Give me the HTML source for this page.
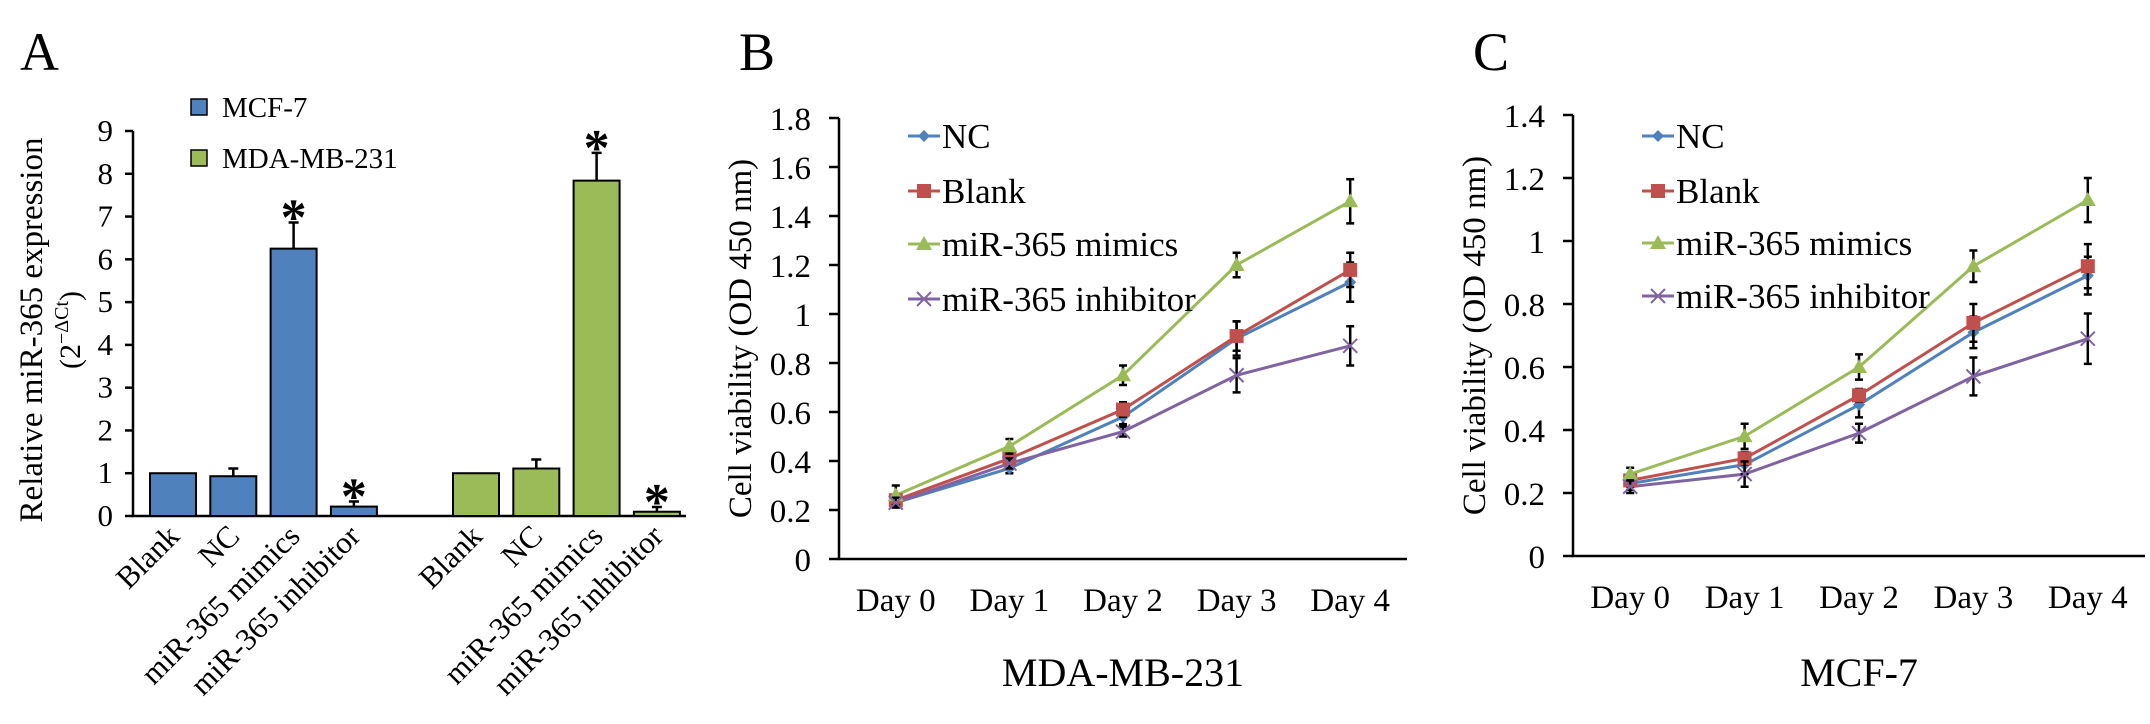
<!DOCTYPE html>
<html><head><meta charset="utf-8"><style>
html,body{margin:0;padding:0;background:#fff;}
svg, svg text, svg tspan{font-family:"Liberation Serif","Times New Roman","Nimbus Roman","Tinos","DejaVu Serif",serif;}
svg{display:block;}
</style></head><body>
<svg id="fig" width="2150" height="724" viewBox="0 0 2150 724" font-family="Liberation Serif, Times New Roman, DejaVu Serif, serif" xmlns="http://www.w3.org/2000/svg"></svg>
<script>
// ---- Panel A data ----
const aCategories = ["Blank","NC","miR-365 mimics","miR-365 inhibitor"];
const aSeriesNames = ["MCF-7","MDA-MB-231"];
const aMcf7 = [1, 0.93, 6.25, 0.22];
const aMcf7Err = [0, 0.18, 0.61, 0.12];
const aMda = [1, 1.11, 7.84, 0.10];
const aMdaErr = [0, 0.21, 0.65, 0.11];
const aSig = [false, false, true, true];
const aTicks = [0,1,2,3,4,5,6,7,8,9];
// ---- Panel B data (MDA-MB-231) ----
const days = ["Day 0","Day 1","Day 2","Day 3","Day 4"];
const lineNames = ["NC","Blank","miR-365 mimics","miR-365 inhibitor"];
const bNC = [0.23,0.37,0.58,0.90,1.13];
const bBlank = [0.24,0.41,0.61,0.91,1.18];
const bMimics = [0.26,0.46,0.75,1.20,1.46];
const bInhib = [0.23,0.39,0.52,0.75,0.87];
const bNCErr = [0.02,0.02,0.03,0.07,0.08];
const bBlankErr = [0.02,0.02,0.03,0.06,0.07];
const bMimicsErr = [0.04,0.03,0.04,0.05,0.09];
const bInhibErr = [0.02,0.02,0.02,0.07,0.08];
const bTicks = ["0","0.2","0.4","0.6","0.8","1","1.2","1.4","1.6","1.8"];
// ---- Panel C data (MCF-7) ----
const cNC = [0.23,0.29,0.48,0.71,0.89];
const cBlank = [0.24,0.31,0.51,0.74,0.92];
const cMimics = [0.26,0.38,0.60,0.92,1.13];
const cInhib = [0.22,0.26,0.39,0.57,0.69];
const cNCErr = [0.02,0.03,0.04,0.05,0.06];
const cBlankErr = [0.02,0.02,0.02,0.06,0.07];
const cMimicsErr = [0.02,0.04,0.04,0.05,0.07];
const cInhibErr = [0.02,0.04,0.03,0.06,0.08];
const cTicks = ["0","0.2","0.4","0.6","0.8","1","1.2","1.4"];

const NS="http://www.w3.org/2000/svg";
const FONT='Liberation Serif, Times New Roman, DejaVu Serif, serif';
const svg=document.getElementById('fig');
function mk(tag,attrs,parent,txt){const e=document.createElementNS(NS,tag);for(const k in attrs)e.setAttribute(k,attrs[k]);if(tag==='text')e.setAttribute('font-family',FONT);if(txt!==undefined)e.textContent=txt;(parent||svg).appendChild(e);return e;}

// ================= Panel A =================
{
const g=mk('g',{});


const lab=mk('text',{x:20,y:70,'font-size':54},g,'A');


const X0=133,X1=686,Y0=516,Ymax=9,Ytop=131;
const y=v=>Y0-(v/Ymax)*(Y0-Ytop);
const ax=mk('path',{d:`M${X0} ${Ytop}V${Y0}H${X1}`,stroke:'#000','stroke-width':2.5,fill:'none'},g);


aTicks.forEach(t=>{
  mk('line',{x1:X0-8,x2:X0,y1:y(t),y2:y(t),stroke:'#000','stroke-width':2.5},g);
  const tl=mk('text',{x:X0-20,y:y(t)+10,'font-size':31,'text-anchor':'end'},g,String(t));
  
  
});
const yt=mk('text',{'font-size':33,'text-anchor':'middle',transform:'translate(42,330) rotate(-90)'},g,'Relative miR-365 expression');


const yt2=mk('text',{'font-size':30,'text-anchor':'middle',transform:'translate(80,330) rotate(-90)'},g);


mk('tspan',{},yt2,'(2');
mk('tspan',{'font-size':20,dy:-12},yt2,'−ΔCt');
mk('tspan',{dy:12},yt2,')');
const groups=[{vals:aMcf7,err:aMcf7Err,color:'#4f81bd',start:150},{vals:aMda,err:aMdaErr,color:'#9bbb59',start:453}];
const BW=46,STEP=60.3;
groups.forEach((gr,gi)=>{
  gr.vals.forEach((v,i)=>{
    const bx=gr.start+i*STEP;
    const r=mk('rect',{x:bx,y:y(v),width:BW,height:Y0-y(v),fill:gr.color,stroke:'#000','stroke-width':2},g);
    
    
    const cx=bx+BW/2;
    if(gr.err[i]>0){
      const et=y(v+gr.err[i]);
      mk('path',{d:`M${cx} ${y(v)}V${et}M${cx-5} ${et}H${cx+5}`,stroke:'#000','stroke-width':2.5,fill:'none'},g);
      if(aSig[i]){
        const s=mk('text',{x:cx,y:et+12,'font-size':52,'font-weight':'bold','text-anchor':'middle'},g,'*');
        
        
      }
    }
    const xl=mk('text',{'font-size':31,'text-anchor':'end',transform:`translate(${cx+8},${Y0+22}) rotate(-45)`},g,aCategories[i]);
    
    
  });
});
[['#4f81bd',107],['#9bbb59',158]].forEach((l,i)=>{
  const s=mk('rect',{x:191,y:l[1]-8,width:16,height:16,fill:l[0],stroke:'#000','stroke-width':1.5},g);
  
  
  const t=mk('text',{x:222,y:l[1]+10,'font-size':29},g,aSeriesNames[i]);
  
  
});
}

// ================= Line panels =================
const colors=['#4f81bd','#c0504d','#9bbb59','#8064a2'];
function marker(g,k,x,y,c){
  if(k===0) return mk('path',{d:`M${x} ${y-6}L${x+6} ${y}L${x} ${y+6}L${x-6} ${y}Z`,fill:c},g);
  if(k===1) return mk('rect',{x:x-7,y:y-7,width:14,height:14,fill:c},g);
  if(k===2) return mk('path',{d:`M${x} ${y-8}L${x+8} ${y+6}L${x-8} ${y+6}Z`,fill:c},g);
  return mk('path',{d:`M${x-7} ${y-7}L${x+7} ${y+7}M${x-7} ${y+7}L${x+7} ${y-7}`,stroke:c,'stroke-width':2},g);
}
function linePanel(o){
  const g=mk('g',{});
  
  
  const lab=mk('text',{x:o.X0-100,y:70,'font-size':54},g,o.label);
  
  
  const n=days.length,cw=(o.X1-o.X0)/n;
  const xs=i=>o.X0+cw*(i+0.5);
  const ys=v=>o.Y0-(v/o.max)*(o.Y0-o.Ytop);
  const ax=mk('path',{d:`M${o.X0} ${o.Ytop}V${o.Y0}H${o.X1}`,stroke:'#000','stroke-width':2.5,fill:'none'},g);
  
  
  o.ticks.forEach(t=>{
    const v=parseFloat(t);
    mk('line',{x1:o.X0-10,x2:o.X0,y1:ys(v),y2:ys(v),stroke:'#000','stroke-width':2.5},g);
    const tl=mk('text',{x:o.X0-28,y:ys(v)+12,'font-size':33,'text-anchor':'end'},g,t);
    
    
  });
  days.forEach((d,i)=>{
    const tl=mk('text',{x:xs(i),y:o.Y0+52,'font-size':33,'text-anchor':'middle'},g,d);
    
    
  });
  const yt=mk('text',{'font-size':33,'text-anchor':'middle',transform:`translate(${o.X0-88},${(o.Y0+o.Ytop)/2}) rotate(-90)`},g,'Cell viability (OD 450 nm)');
  
  
  const xt=mk('text',{x:(o.X0+o.X1)/2,y:686,'font-size':40,'text-anchor':'middle'},g,o.title);
  
  
  o.series.forEach((s,k)=>{
    const pts=s.map((v,i)=>xs(i)+','+ys(v)).join(' ');
    const pl=mk('polyline',{points:pts,fill:'none',stroke:colors[k],'stroke-width':3},g);
    
    
  });
  o.series.forEach((s,k)=>{
    s.forEach((v,i)=>{
      const x=xs(i),t=ys(v+o.errs[k][i]),b=ys(v-o.errs[k][i]);
      const eb=mk('path',{d:`M${x} ${t}V${b}M${x-4} ${t}H${x+4}M${x-4} ${b}H${x+4}`,stroke:'#000','stroke-width':2.5,fill:'none'},g);
      
      
      const m=marker(g,k,x,ys(v),colors[k]);
      
      
    });
  });
  lineNames.forEach((nm,k)=>{
    const ly=o.legY[k],lx=o.X0+69;
    mk('line',{x1:lx,x2:lx+32,y1:ly,y2:ly,stroke:colors[k],'stroke-width':3},g);
    marker(g,k,lx+16,ly,colors[k]);
    const t=mk('text',{x:lx+34,y:ly+12,'font-size':35},g,nm);
    
    
  });
}
linePanel({name:'panel-b',label:'B',title:'MDA-MB-231',X0:839,X1:1407,Y0:559,Ytop:118,max:1.8,ticks:bTicks,
  series:[bNC,bBlank,bMimics,bInhib],errs:[bNCErr,bBlankErr,bMimicsErr,bInhibErr],legY:[136,191,244,299]});
linePanel({name:'panel-c',label:'C',title:'MCF-7',X0:1573,X1:2145,Y0:556,Ytop:115,max:1.4,ticks:cTicks,
  series:[cNC,cBlank,cMimics,cInhib],errs:[cNCErr,cBlankErr,cMimicsErr,cInhibErr],legY:[136,191,243,296]});
</script>
</body></html>
